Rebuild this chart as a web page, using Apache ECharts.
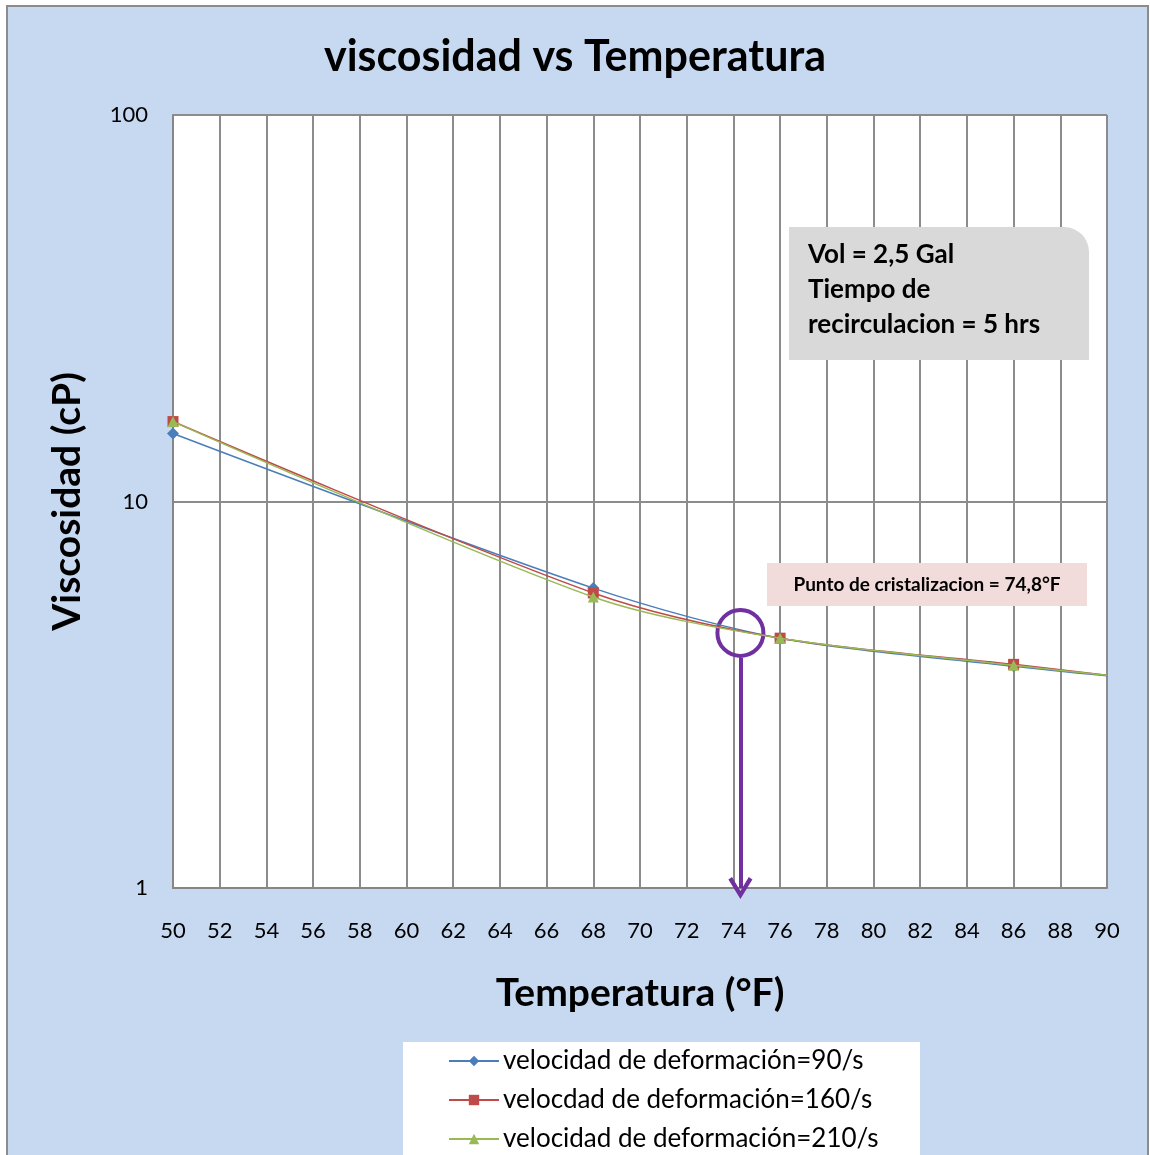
<!DOCTYPE html>
<html>
<head>
<meta charset="utf-8">
<script src="https://cdn.jsdelivr.net/npm/echarts@6/dist/echarts.min.js"></script>
<style>
html,body{margin:0;padding:0;background:#fff;}
#chart{width:1150px;height:1155px;}
</style>
</head>
<body>
<div id="chart"></div>
<script>
// Data
const temperatures = [50, 68, 76, 86, 90];
const serie90 = [15.0, 5.97, 4.43, 3.75, 3.54];
const serie160 = [16.1, 5.80, 4.43, 3.79, 3.55];
const serie210 = [16.1, 5.66, 4.43, 3.77, 3.55];
const seriesNames = ['velocidad de deformación=90/s', 'velocdad de deformación=160/s', 'velocidad de deformación=210/s'];
const xTicks = {min: 50, max: 90, interval: 2};
const yTicks = {min: 1, max: 100};
const crystalPoint = [74.3, 4.57];
const arrowStart = [74.3, 3.94];
const arrowEnd = [74.3, 1];

const FONT = 'Lato, "Open Sans", sans-serif';

function pairs(ys) {
  return temperatures.map((t, i) => {
    const d = {value: [t, ys[i]]};
    if (i === temperatures.length - 1) d.symbolSize = 0;
    return d;
  });
}

function legendFor(i) {
  return {
    orient: 'vertical', left: 448, top: 1048 + i * 39, itemWidth: 50, itemHeight: 13, padding: 0,
    textStyle: {fontFamily: FONT, fontSize: 26, color: '#000', padding: [0, 0, 0, -1]},
    data: [seriesNames[i]]
  };
}

const chart = echarts.init(document.getElementById('chart'));
const option = {
  backgroundColor: '#ffffff',
  animation: false,
  title: {
    text: 'viscosidad vs Temperatura',
    left: 'center', top: 31,
    textStyle: {fontFamily: FONT, fontSize: 43, fontWeight: 'bold', color: '#000'}
  },
  graphic: [
    {type: 'rect', z: -10, shape: {x: 7, y: 6, width: 1141, height: 1160},
     style: {fill: '#c6d9f1', stroke: '#8c8c8c', lineWidth: 2}},
    {type: 'rect', z: 3, shape: {x: 403, y: 1042, width: 517, height: 130},
     style: {fill: '#ffffff'}},
    {type: 'rect', z: 100, shape: {x: 789, y: 227, width: 300, height: 133, r: [0, 25, 0, 0]},
     style: {fill: '#d9d9d9'}},
    {type: 'text', z: 101, left: 808, top: 237,
     style: {text: 'Vol = 2,5 Gal\nTiempo de\nrecirculacion = 5 hrs', fontFamily: FONT, fontSize: 26,
       fontWeight: 'bold', fill: '#000', lineHeight: 35}},
    {type: 'rect', z: 100, shape: {x: 767, y: 563, width: 320, height: 43},
     style: {fill: '#f2dcdb'}},
    {type: 'text', z: 101, x: 927, y: 585,
     style: {text: 'Punto de cristalizacion = 74,8°F', fontFamily: FONT, fontSize: 19,
       fontWeight: 'bold', fill: '#000', align: 'center', verticalAlign: 'middle'}}
  ],
  legend: [legendFor(0), legendFor(1), legendFor(2)],
  grid: {left: 173, top: 115, width: 934, height: 773, show: true, backgroundColor: '#ffffff', borderWidth: 0},
  xAxis: {
    type: 'value', min: xTicks.min, max: xTicks.max, interval: xTicks.interval,
    name: 'Temperatura (°F)', nameLocation: 'middle', nameGap: 86,
    nameTextStyle: {fontFamily: FONT, fontSize: 39, fontWeight: 'bold', color: '#000'},
    axisLine: {lineStyle: {color: '#868686', width: 2}},
    axisTick: {show: false},
    axisLabel: {fontFamily: FONT, fontSize: 22, color: '#000', margin: 32},
    splitLine: {show: true, lineStyle: {color: '#8c8c8c', width: 2}}
  },
  yAxis: {
    type: 'log', logBase: 10, min: yTicks.min, max: yTicks.max,
    name: 'Viscosidad (cP)', nameLocation: 'middle', nameGap: 86,
    nameTextStyle: {fontFamily: FONT, fontSize: 39, fontWeight: 'bold', color: '#000'},
    axisLine: {show: true, lineStyle: {color: '#868686', width: 2}},
    axisTick: {show: false},
    axisLabel: {fontFamily: FONT, fontSize: 22, color: '#000', margin: 25},
    splitLine: {show: true, lineStyle: {color: '#8c8c8c', width: 2}}
  },
  series: [
    {name: seriesNames[0], type: 'line', smooth: 0.3, data: pairs(serie90),
     symbol: 'diamond', symbolSize: 12, color: '#4a7ebb', lineStyle: {width: 1.5}, z: 5},
    {name: seriesNames[1], type: 'line', smooth: 0.3, data: pairs(serie160),
     symbol: 'rect', symbolSize: 11, color: '#be4b48', lineStyle: {width: 1.5}, z: 6},
    {name: seriesNames[2], type: 'line', smooth: 0.3, data: pairs(serie210),
     symbol: 'triangle', symbolSize: 11, color: '#98b954', lineStyle: {width: 1.5}, z: 7,
     markPoint: {
       symbol: 'circle', symbolSize: 46, silent: true,
       itemStyle: {color: 'rgba(0,0,0,0)', borderColor: '#7030a0', borderWidth: 4},
       label: {show: false},
       data: [{coord: crystalPoint}]
     },
     markLine: {
       silent: true,
       symbol: ['none', 'path://M10,0 L20,16 L17,18 L10,6.5 L3,18 L0,16 Z'],
       symbolSize: [24, 22], symbolOffset: [0, 0],
       lineStyle: {color: '#7030a0', width: 4, type: 'solid'},
       itemStyle: {color: '#7030a0'},
       label: {show: false},
       data: [[{coord: arrowStart}, {coord: arrowEnd}]]
     }}
  ]
};
chart.setOption(option);
</script>
</body>
</html>
